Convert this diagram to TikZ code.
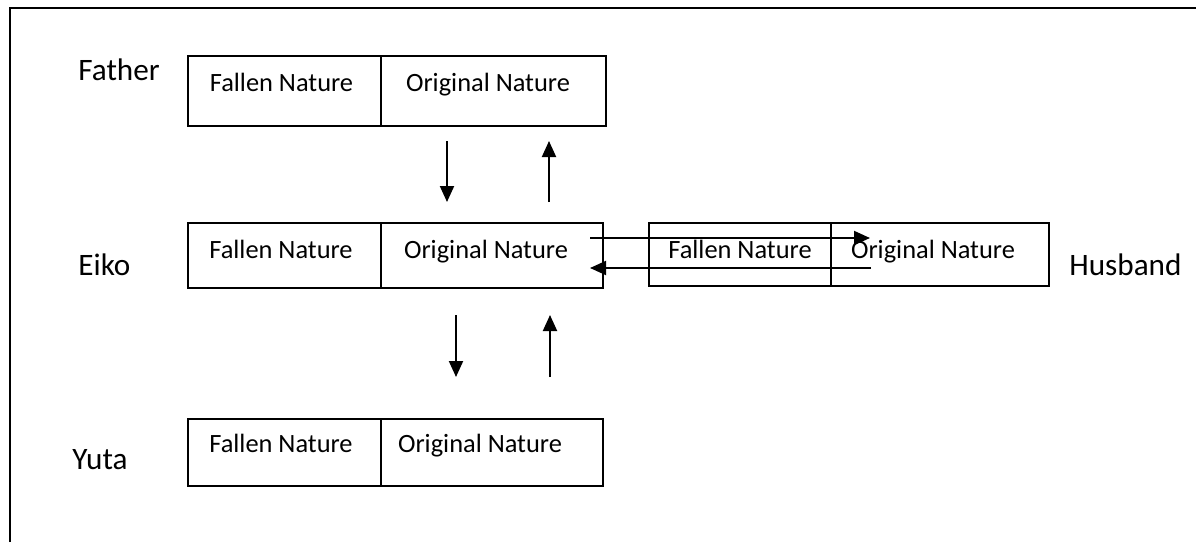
\documentclass[tikz,border=0pt]{standalone}
\usepackage{fontspec}
\setmainfont{Carlito}
\usetikzlibrary{arrows.meta}
\begin{document}
\begin{tikzpicture}[x=0.5pt,y=-0.5pt,
  cell/.style={draw,line width=1pt,inner sep=0pt,anchor=north west},
  txt/.style={inner sep=0pt,anchor=base,font=\fontsize{13.2}{15}\selectfont},
  lab/.style={inner sep=0pt,anchor=base west,font=\fontsize{15.6}{18}\selectfont},
  arr/.style={line width=1pt,-{Triangle[width=7pt,length=8pt]}}]
\useasboundingbox (0,0) rectangle (1196,542);
\draw[line width=1pt] (10,542) -- (10,8) -- (1196,8);
% Father
\node[cell,minimum width=96.5pt,minimum height=35pt] (FL) at (187,55) {};
\node[cell,minimum width=112.5pt,minimum height=35pt] (FR) at (380,55) {};
\node[txt] (FLt) at (281.5,91) {Fallen Nature};
\node[txt] (FRt) at (488,91) {Original Nature};
\node[lab] (father) at (78,80) {Father};
% Eiko
\node[cell,minimum width=96.5pt,minimum height=32.5pt] (EL) at (187,222) {};
\node[cell,minimum width=111pt,minimum height=32.5pt] (ER) at (380,222) {};
\node[txt] (ELt) at (281,258) {Fallen Nature};
\node[txt] (ERt) at (486,258) {Original Nature};
\node[lab] (eiko) at (78,275) {Eiko};
% Husband
\node[cell,minimum width=91pt,minimum height=31.5pt] (HL) at (648,222) {};
\node[cell,minimum width=109pt,minimum height=31.5pt] (HR) at (830,222) {};
\node[txt] (HLt) at (740,258) {Fallen Nature};
\node[txt] (HRt) at (933,258) {Original Nature};
\node[lab] (husband) at (1069,275) {Husband};
% Yuta
\node[cell,minimum width=96.5pt,minimum height=33.5pt] (YL) at (187,418) {};
\node[cell,minimum width=111pt,minimum height=33.5pt] (YR) at (380,418) {};
\node[txt] (YLt) at (281,452) {Fallen Nature};
\node[txt] (YRt) at (480,452) {Original Nature};
\node[lab] (yuta) at (72,469) {Yuta};
% arrow end points
\coordinate (a1s) at (447,141); \coordinate (a1e) at (447,202);
\coordinate (a2s) at (549,202); \coordinate (a2e) at (549,141);
\coordinate (a3s) at (456,315); \coordinate (a3e) at (456,377);
\coordinate (a4s) at (550,377); \coordinate (a4e) at (550,315);
\coordinate (h1s) at (590,238); \coordinate (h1e) at (870,238);
\coordinate (h2s) at (871,268); \coordinate (h2e) at (590,268);
\draw[arr] (a1s) -- (a1e);
\draw[arr] (a2s) -- (a2e);
\draw[arr] (a3s) -- (a3e);
\draw[arr] (a4s) -- (a4e);
\draw[arr] (h1s) -- (h1e);
\draw[arr] (h2s) -- (h2e);
\end{tikzpicture}
\end{document}
